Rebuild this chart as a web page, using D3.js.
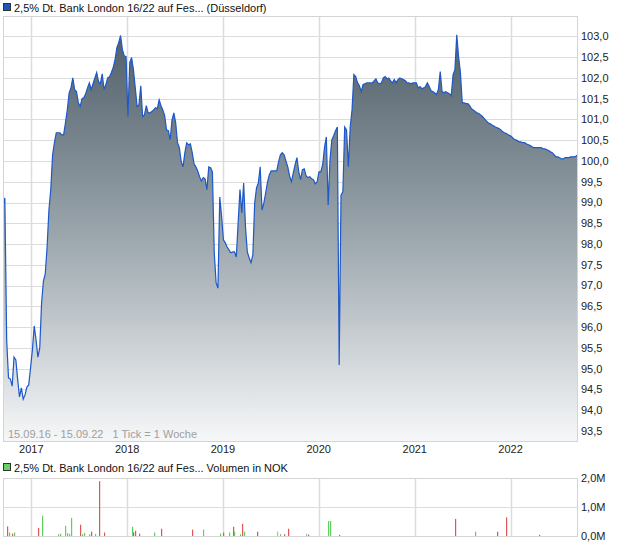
<!DOCTYPE html>
<html><head><meta charset="utf-8">
<script src="https://cdn.jsdelivr.net/npm/d3@7"></script>
<style>body{margin:0;background:#fff}svg{display:block;font-family:"Liberation Sans",Arial,sans-serif}</style>
</head><body><svg id="c" width="620" height="546"></svg>
<script>
// ---- data ----
const title = "2,5% Dt. Bank London 16/22 auf Fes... (Düsseldorf)";
const volTitle = "2,5% Dt. Bank London 16/22 auf Fes... Volumen in NOK";
const rangeNote = "15.09.16 - 15.09.22   1 Tick = 1 Woche";
const startDate = "2016-09-15";   // first weekly tick
const endDate = "2022-09-15";
// weekly closing prices (1 Tick = 1 Woche)
const priceValues = [
98.94,99.11,95.69,94.78,94.75,94.58,95.28,95.21,94.73,94.32,
94.54,94.27,94.37,94.56,94.61,95.02,95.45,96.03,95.69,95.28,
95.50,96.58,97.11,97.28,97.93,98.82,99.31,100.15,100.44,100.68,
100.68,100.68,100.63,100.63,100.92,101.23,101.64,101.76,102.00,101.72,
101.67,101.40,101.31,101.50,101.52,101.62,101.76,101.88,101.72,101.86,
102.00,102.13,101.91,101.86,102.10,101.72,101.84,102.00,102.03,102.13,
102.25,102.44,102.73,102.85,103.02,102.68,102.53,102.51,101.07,102.37,
102.49,102.20,101.76,101.31,101.35,101.81,101.07,101.11,101.33,101.16,
101.16,101.19,101.23,101.28,101.26,101.47,101.33,101.23,101.09,100.75,
100.73,100.51,100.99,101.16,100.92,100.44,100.32,99.98,99.86,100.20,
100.44,100.39,100.41,100.20,99.93,99.86,99.76,99.62,99.52,99.60,
99.57,99.31,99.86,99.84,99.74,97.79,97.07,96.94,99.13,98.66,
98.10,98.03,97.93,97.86,97.79,97.81,97.81,97.69,98.51,99.31,
98.75,99.47,98.41,97.81,97.67,97.55,97.74,98.99,99.35,99.47,
99.86,98.82,98.99,99.23,99.50,99.67,99.76,99.76,99.76,99.76,
99.98,100.15,100.20,100.15,100.00,99.86,99.64,99.50,99.71,99.91,
100.08,99.74,99.55,99.79,99.81,99.64,99.60,99.62,99.57,99.55,
99.45,99.50,99.74,99.74,99.91,100.32,100.58,98.94,100.03,100.51,
100.61,100.73,100.82,95.09,99.18,99.26,100.82,100.75,99.86,100.82,
101.23,102.08,102.03,101.88,101.81,101.67,101.84,101.86,101.88,101.88,
101.88,101.88,101.93,101.98,101.88,101.86,101.88,102.00,102.03,101.98,
102.00,101.93,101.88,101.96,101.88,101.96,102.00,101.98,101.96,101.93,
101.88,101.88,101.86,101.88,101.88,101.88,101.76,101.79,101.74,101.76,
101.79,101.88,101.79,101.69,101.67,101.64,101.60,101.72,102.15,101.67,
101.64,101.67,101.64,101.62,101.57,102.08,102.20,103.04,102.51,102.13,
101.40,101.40,101.38,101.38,101.33,101.26,101.23,101.19,101.16,101.14,
101.11,101.07,101.02,100.97,100.92,100.90,100.87,100.85,100.82,100.80,
100.78,100.75,100.70,100.68,100.66,100.63,100.61,100.58,100.53,100.51,
100.49,100.46,100.46,100.44,100.44,100.41,100.39,100.37,100.34,100.32,
100.32,100.32,100.32,100.32,100.29,100.29,100.27,100.25,100.22,100.20,
100.15,100.10,100.10,100.08,100.05,100.05,100.08,100.08,100.08,100.10,
100.10,100.10,100.12,100.15
];
const yearTicks = ["2017","2018","2019","2020","2021","2022"];
const priceTicks = [93.5,94,94.5,95,95.5,96,96.5,97,97.5,98,98.5,99,99.5,100,100.5,101,101.5,102,102.5,103];
const priceDomain = [93.26, 103.49];
// volume: week number (since start), volume in millions NOK, direction
const volWeeks  = [2,3,5,6,19,21,30,31,34,35,36,37,42,43,44,47,48,50,52,55,70,71,72,74,82,86,103,109,118,120,123,125,126,129,130,131,138,149,151,153,155,165,166,177,178,183,246,257,269,274,292];
const volValues = [0.33,0.12,0.08,0.12,0.28,0.70,0.06,0.08,0.35,0.10,0.07,0.62,0.39,0.06,0.10,0.06,0.15,0.07,1.89,0.12,0.32,0.13,0.18,0.08,0.12,0.25,0.22,0.22,0.08,0.12,0.12,0.32,0.15,0.06,0.42,0.15,0.15,0.15,0.06,0.06,0.25,0.08,0.05,0.52,0.52,0.04,0.59,0.15,0.15,0.64,0.04];
const volDir    = ["d","u","d","u","d","u","u","u","u","u","u","u","d","u","u","u","d","u","d","d","u","d","d","d","u","d","d","u","u","d","u","d","u","u","d","u","d","n","u","d","d","n","d","u","u","d","d","u","d","d","d"];
const volTicks = [0,1,2];

// ---- drawing ----
const svg = d3.select("#c");
const L = 3, R = 578, T = 16, B = 441, VT = 478, VB = 536;
const parse = d3.timeParse("%Y-%m-%d");
const t0 = parse(startDate), t1 = parse(endDate);
const x = d3.scaleTime().domain([t0, t1]).range([L, R]);
const y = d3.scaleLinear().domain(priceDomain).range([B, T]);
const yv = d3.scaleLinear().domain([0, 2]).range([VB, VT]);
const data = priceValues.map((v, i) => ({d: d3.timeDay.offset(t0, 7 * i), v}));
const yearDates = yearTicks.map(s => parse(s + "-01-01"));
const fmt = v => d3.format(".1f")(v).replace(".", ",");
const gridCol = "#dcdcdc";

// gradient
const defs = svg.append("defs");
const grad = defs.append("linearGradient").attr("id", "g").attr("gradientUnits", "userSpaceOnUse")
  .attr("x1", 0).attr("x2", 0).attr("y1", T).attr("y2", B);
grad.append("stop").attr("offset", 0).attr("stop-color", "#4a5964");
grad.append("stop").attr("offset", 0.5).attr("stop-color", "#98a3aa");
grad.append("stop").attr("offset", 1).attr("stop-color", "#f6f7f8");
defs.append("clipPath").attr("id", "cp").append("rect").attr("x", L).attr("y", T).attr("width", R - L).attr("height", B - T);

// legend
svg.append("rect").attr("x", 3.5).attr("y", 3.5).attr("width", 7).attr("height", 7).attr("fill", "#1d55c0").attr("stroke", "#333").attr("stroke-width", 1);
svg.append("text").attr("x", 14).attr("y", 11.5).attr("font-size", 11).attr("fill", "#111").text(title);

// grid
const g = svg.append("g");
g.selectAll("line.h").data(priceTicks).join("line")
  .attr("x1", L).attr("x2", R).attr("y1", d => Math.round(y(d)) + 0.5).attr("y2", d => Math.round(y(d)) + 0.5)
  .attr("stroke", gridCol);
g.selectAll("line.v").data(yearDates).join("line")
  .attr("x1", d => Math.round(x(d)) + 0.5).attr("x2", d => Math.round(x(d)) + 0.5).attr("y1", T).attr("y2", B)
  .attr("stroke", gridCol).attr("stroke-width", 1.5);

// area + line
const area = d3.area().x(d => x(d.d)).y0(B).y1(d => y(d.v));
const line = d3.line().x(d => x(d.d)).y(d => y(d.v));
const pg = svg.append("g").attr("clip-path", "url(#cp)");
pg.append("path").datum(data).attr("d", area).attr("fill", "url(#g)");
pg.append("path").datum(data).attr("d", line).attr("fill", "none").attr("stroke", "#1d58c8").attr("stroke-width", 1.2);

// range note (on top of the fill)
svg.append("text").attr("x", 8).attr("y", 438).attr("font-size", 11).attr("fill", "#a0a0a0")
  .style("white-space", "pre").attr("xml:space", "preserve").text(rangeNote);

// border
svg.append("rect").attr("x", L + 0.5).attr("y", T + 0.5).attr("width", R - L - 1).attr("height", B - T).attr("fill", "none").attr("stroke", "#d4d4d4");

// y axis labels
svg.append("g").selectAll("text").data(priceTicks).join("text")
  .attr("x", 581).attr("y", d => y(d)).attr("dy", "0.35em").attr("font-size", 11).attr("fill", "#222").text(fmt);
// x axis labels
svg.append("g").selectAll("text").data(yearDates).join("text")
  .attr("x", d => x(d)).attr("y", 453).attr("text-anchor", "middle").attr("font-size", 11).attr("fill", "#222")
  .text(d => d3.timeFormat("%Y")(d));

// volume panel
svg.append("rect").attr("x", 3.5).attr("y", 463.5).attr("width", 7).attr("height", 7).attr("fill", "#66d166").attr("stroke", "#333");
svg.append("text").attr("x", 14).attr("y", 471.5).attr("font-size", 11).attr("fill", "#111").text(volTitle);
const vg = svg.append("g");
vg.selectAll("line.h").data(volTicks.slice(1, 2)).join("line")
  .attr("x1", L).attr("x2", R).attr("y1", d => Math.round(yv(d)) + 0.5).attr("y2", d => Math.round(yv(d)) + 0.5).attr("stroke", gridCol);
vg.selectAll("line.v").data(yearDates).join("line")
  .attr("x1", d => Math.round(x(d)) + 0.5).attr("x2", d => Math.round(x(d)) + 0.5).attr("y1", VT).attr("y2", VB)
  .attr("stroke", gridCol).attr("stroke-width", 1.5);
const col = {u: "#5fcf5f", d: "#e05555", n: "#b4b4b4"};
vg.selectAll("rect.b").data(volWeeks.map((w, i) => ({d: d3.timeDay.offset(t0, 7 * w), v: volValues[i], c: volDir[i]})))
  .join("rect").attr("x", d => Math.round(x(d.d))).attr("width", 1.2)
  .attr("y", d => yv(d.v)).attr("height", d => VB - yv(d.v)).attr("fill", d => col[d.c]);
svg.append("rect").attr("x", L + 0.5).attr("y", VT + 0.5).attr("width", R - L - 1).attr("height", VB - VT).attr("fill", "none").attr("stroke", "#d4d4d4");
svg.append("g").selectAll("text").data(volTicks).join("text")
  .attr("x", 581).attr("y", d => yv(d)).attr("dy", "0.35em").attr("font-size", 11).attr("fill", "#222")
  .text(d => fmt(d) + "M");
</script></body></html>
